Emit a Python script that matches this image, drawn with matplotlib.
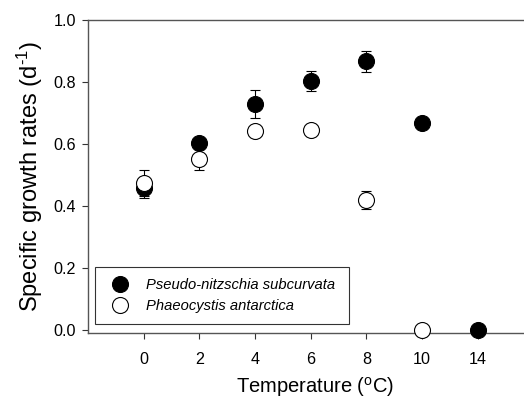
import numpy as np
import matplotlib
matplotlib.use("Agg")
import matplotlib.pyplot as plt

plt.rcParams['font.family'] = ['Liberation Sans', 'DejaVu Sans']
plt.rcParams['mathtext.fontset'] = 'custom'
plt.rcParams['mathtext.rm'] = 'Liberation Sans'
plt.rcParams['mathtext.default'] = 'regular'

# temperature treatments (plotted as equally spaced categories)
temps = ['0', '2', '4', '6', '8', '10', '14']
# Pseudo-nitzschia subcurvata
pn_rate = [0.458, 0.605, 0.728, 0.803, 0.867, 0.667, 0.0]
pn_err = [0.032, 0.008, 0.045, 0.031, 0.034, 0.0, 0.0]
# Phaeocystis antarctica (no data at 14)
pa_rate = [0.474, 0.552, 0.642, 0.645, 0.421, 0.0, np.nan]
pa_err = [0.042, 0.034, 0.0, 0.0, 0.029, 0.0, np.nan]

fig = plt.figure(figsize=(5.24, 4.03), dpi=100)
ax = fig.add_axes([88 / 524, 70 / 403, 436 / 524, 313 / 403])

x = np.arange(len(temps))
ax.errorbar(x, pn_rate, yerr=pn_err, fmt='o', color='black', mfc='black', mec='black',
            ms=11.5, mew=0.8, elinewidth=0.8, capsize=3.5, capthick=0.8, clip_on=False,
            label='Pseudo-nitzschia subcurvata', zorder=3)
ax.errorbar(x, pa_rate, yerr=pa_err, fmt='o', color='black', mfc='white', mec='black',
            ms=11.5, mew=0.8, elinewidth=0.8, capsize=3.5, capthick=0.8, clip_on=False,
            label='Phaeocystis antarctica', zorder=4)

ax.set_xlim(-1, 6.83)
ax.set_ylim(-0.009, 1.0)
ax.set_xticks(x)
ax.set_xticklabels(temps)
ax.set_yticks([0.0, 0.2, 0.4, 0.6, 0.8, 1.0])
ax.set_yticklabels(['0.0', '0.2', '0.4', '0.6', '0.8', '1.0'])
ax.tick_params(direction='out', length=4.5, width=0.8, color='#333333', labelsize=11.6, pad=4)
ax.tick_params(axis='x', pad=9)

for s in ['left', 'bottom', 'top']:
    ax.spines[s].set_color('#555555')
    ax.spines[s].set_linewidth(1.0)
ax.spines['right'].set_visible(False)

ax.set_xlabel('Temperature ($^{o}$C)', fontsize=14.5, labelpad=12)
ax.set_ylabel('Specific growth rates (d$^{\u20101}$)', fontsize=17, labelpad=6)
ax.xaxis.set_label_coords(0.52, -0.135)

handles, labels = ax.get_legend_handles_labels()
handles = [h[0] for h in handles]
leg = ax.legend(handles, labels, loc='lower left', bbox_to_anchor=(0.016, 0.029, 0.583, 0.185),
                mode='expand', borderaxespad=0, fancybox=False, edgecolor='black',
                prop={'style': 'italic', 'size': 10.6}, handletextpad=0.8,
                labelspacing=0.45, borderpad=0.75, handlelength=1.9, markerscale=1.0)
leg.get_frame().set_linewidth(0.8)

fig.savefig('out.png', dpi=100)
